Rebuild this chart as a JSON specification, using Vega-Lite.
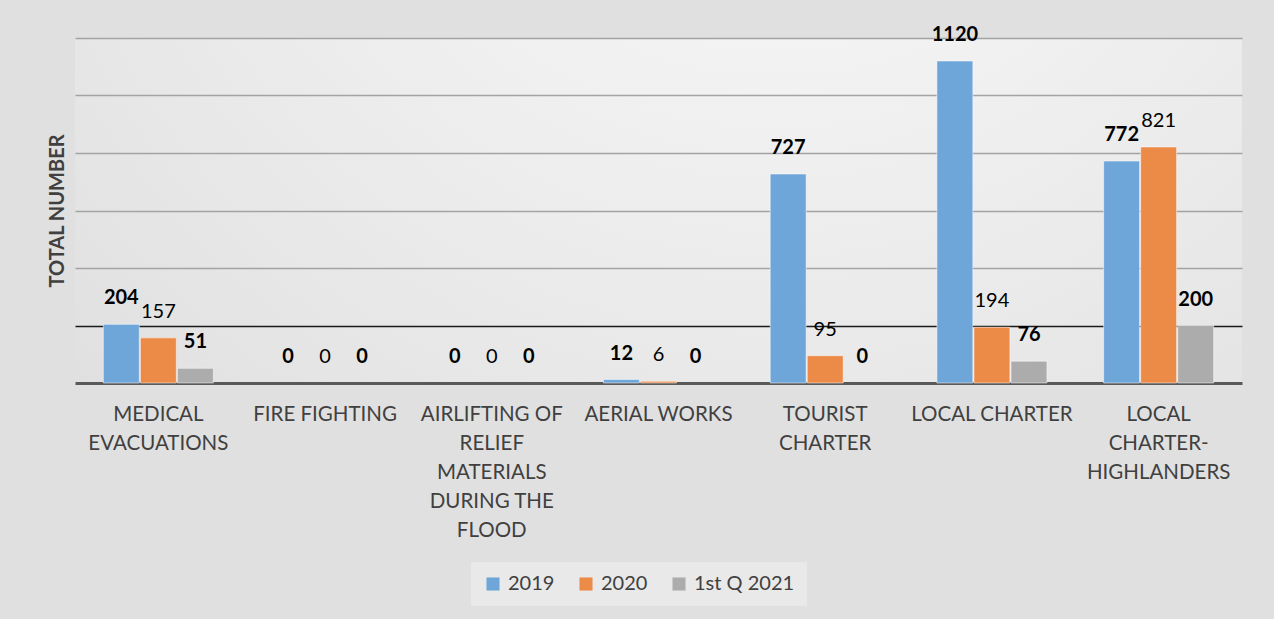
{
  "$schema": "https://vega.github.io/schema/vega-lite/v6.json",
  "width": 1167,
  "height": 345,
  "autosize": "none",
  "padding": {"left": 75, "top": 38, "right": 32, "bottom": 236},
  "background": "#e0e0e0",
  "config": {
    "font": "Lato",
    "view": {
      "stroke": null,
      "fill": {
        "gradient": "radial",
        "x1": 0.6, "y1": 0.05, "r1": 0,
        "x2": 0.6, "y2": 0.05, "r2": 0.85,
        "stops": [
          {"offset": 0, "color": "#fdfdfd"},
          {"offset": 1, "color": "#e0e0e0"}
        ]
      }
    }
  },
  "data": {
    "values": [
      {"activity": "MEDICAL EVACUATIONS", "series": "2019", "value": 204},
      {"activity": "MEDICAL EVACUATIONS", "series": "2020", "value": 157},
      {"activity": "MEDICAL EVACUATIONS", "series": "1st Q 2021", "value": 51},
      {"activity": "FIRE FIGHTING", "series": "2019", "value": 0},
      {"activity": "FIRE FIGHTING", "series": "2020", "value": 0},
      {"activity": "FIRE FIGHTING", "series": "1st Q 2021", "value": 0},
      {"activity": "AIRLIFTING OF RELIEF MATERIALS DURING THE FLOOD", "series": "2019", "value": 0},
      {"activity": "AIRLIFTING OF RELIEF MATERIALS DURING THE FLOOD", "series": "2020", "value": 0},
      {"activity": "AIRLIFTING OF RELIEF MATERIALS DURING THE FLOOD", "series": "1st Q 2021", "value": 0},
      {"activity": "AERIAL WORKS", "series": "2019", "value": 12},
      {"activity": "AERIAL WORKS", "series": "2020", "value": 6},
      {"activity": "AERIAL WORKS", "series": "1st Q 2021", "value": 0},
      {"activity": "TOURIST CHARTER", "series": "2019", "value": 727},
      {"activity": "TOURIST CHARTER", "series": "2020", "value": 95},
      {"activity": "TOURIST CHARTER", "series": "1st Q 2021", "value": 0},
      {"activity": "LOCAL CHARTER", "series": "2019", "value": 1120},
      {"activity": "LOCAL CHARTER", "series": "2020", "value": 194},
      {"activity": "LOCAL CHARTER", "series": "1st Q 2021", "value": 76},
      {"activity": "LOCAL CHARTER-HIGHLANDERS", "series": "2019", "value": 772},
      {"activity": "LOCAL CHARTER-HIGHLANDERS", "series": "2020", "value": 821},
      {"activity": "LOCAL CHARTER-HIGHLANDERS", "series": "1st Q 2021", "value": 200}
    ]
  },
  "encoding": {
    "x": {
      "field": "activity",
      "type": "nominal",
      "sort": ["MEDICAL EVACUATIONS", "FIRE FIGHTING", "AIRLIFTING OF RELIEF MATERIALS DURING THE FLOOD", "AERIAL WORKS", "TOURIST CHARTER", "LOCAL CHARTER", "LOCAL CHARTER-HIGHLANDERS"],
      "scale": {"paddingInner": 0.34, "paddingOuter": 0.17},
      "axis": {
        "title": null,
        "labelAngle": 0,
        "labelFontSize": 20.5,
        "labelColor": "#404040",
        "labelPadding": 31,
        "labelLineHeight": 29,
        "labelBaseline": "middle",
        "labelLimit": 0,
        "ticks": false,
        "domain": true,
        "domainColor": "#595959",
        "domainWidth": 3,
        "grid": false,
        "labelExpr": "datum.label == 'MEDICAL EVACUATIONS' ? ['MEDICAL','EVACUATIONS'] : datum.label == 'AIRLIFTING OF RELIEF MATERIALS DURING THE FLOOD' ? ['AIRLIFTING OF','RELIEF','MATERIALS','DURING THE','FLOOD'] : datum.label == 'TOURIST CHARTER' ? ['TOURIST','CHARTER'] : datum.label == 'LOCAL CHARTER-HIGHLANDERS' ? ['LOCAL','CHARTER-','HIGHLANDERS'] : datum.label"
      }
    },
    "xOffset": {
      "field": "series",
      "type": "nominal",
      "sort": ["2019", "2020", "1st Q 2021"],
      "scale": {"paddingInner": 0.03}
    },
    "y": {
      "field": "value",
      "type": "quantitative",
      "scale": {"domain": [0, 1200], "nice": false},
      "axis": {
        "title": "TOTAL NUMBER",
        "titleFontSize": 20,
        "titleFontWeight": "bold",
        "titleColor": "#404040",
        "titlePadding": 8,
        "labels": false,
        "ticks": false,
        "domain": false,
        "values": [0, 200, 400, 600, 800, 1000, 1200],
        "grid": true,
        "gridWidth": 1.5,
        "gridColor": {"condition": {"test": "datum.value == 200", "value": "#1a1a1a"}, "value": "#a3a3a3"},
        "gridOpacity": {"condition": {"test": "datum.value == 0", "value": 0}, "value": 1}
      }
    }
  },
  "layer": [
    {
      "transform": [{"filter": "datum.value > 0"}],
      "mark": {"type": "bar", "stroke": "#ffffff", "strokeOpacity": 0.5, "strokeWidth": 1},
      "encoding": {
        "color": {
          "field": "series",
          "type": "nominal",
          "scale": {"domain": ["2019", "2020", "1st Q 2021"], "range": ["#6fa6d9", "#ec8a48", "#acacac"]},
          "legend": {
            "title": null,
            "orient": "none",
            "legendX": 396,
            "legendY": 524,
            "direction": "horizontal",
            "symbolType": "square",
            "symbolSize": 170,
            "symbolStrokeWidth": 0,
            "labelFontSize": 20,
            "labelColor": "#404040",
            "labelOffset": 5,
            "columnPadding": 21,
            "fillColor": "#e9e9e9",
            "padding": 12,
            "offset": 0
          }
        }
      }
    },
    {
      "transform": [{"filter": "datum.series != '2020'"}],
      "mark": {"type": "text", "fontSize": 20, "fontWeight": "bold", "color": "#000000", "baseline": "middle", "dy": -26},
      "encoding": {"text": {"field": "value", "type": "quantitative"}}
    },
    {
      "transform": [{"filter": "datum.series == '2020'"}],
      "mark": {"type": "text", "fontSize": 20, "fontWeight": "normal", "color": "#000000", "baseline": "middle", "dy": -26},
      "encoding": {"text": {"field": "value", "type": "quantitative"}}
    }
  ]
}
